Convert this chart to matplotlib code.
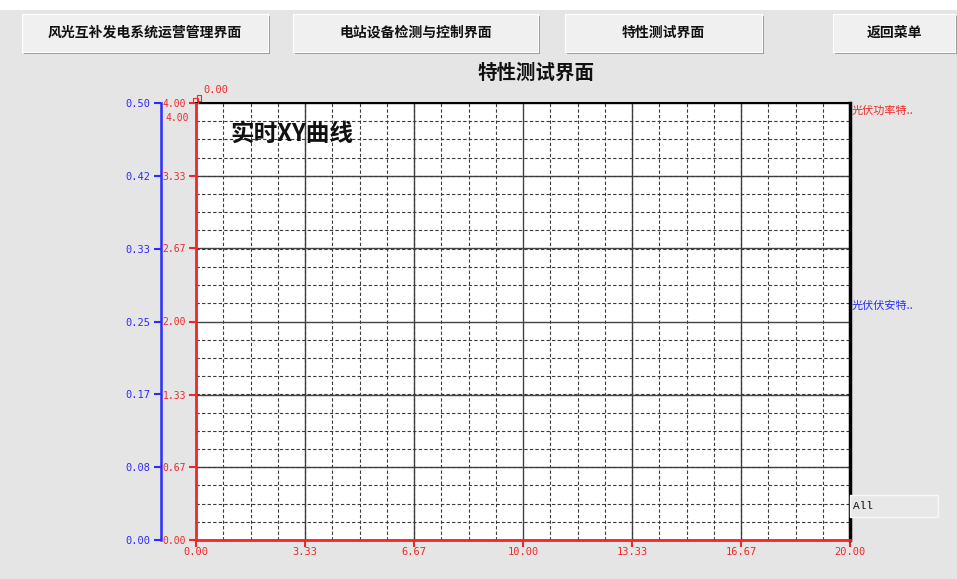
import matplotlib
matplotlib.use("Agg")
import matplotlib.pyplot as plt
from matplotlib.patches import Rectangle
from matplotlib.ticker import MultipleLocator

plt.rcParams['font.family'] = ['Noto Sans CJK SC', 'DejaVu Sans']

W, H = 957, 579

# axis data
x_ticks = [0.00, 3.33, 6.67, 10.00, 13.33, 16.67, 20.00]
x_labels = ["0.00", "3.33", "6.67", "10.00", "13.33", "16.67", "20.00"]
y_ticks = [0.00, 0.67, 1.33, 2.00, 2.67, 3.33, 4.00]
y_labels = ["0.00", "0.67", "1.33", "2.00", "2.67", "3.33", "4.00"]
y2_ticks = [0.00, 0.0833, 0.1667, 0.25, 0.3333, 0.4167, 0.50]
y2_labels = ["0.00", "0.08", "0.17", "0.25", "0.33", "0.42", "0.50"]

# curves (no samples recorded yet)
pv_power_x, pv_power_y = [], []
pv_iv_x, pv_iv_y = [], []

buttons = ["风光互补发电系统运营管理界面", "电站设备检测与控制界面", "特性测试界面", "返回菜单"]
button_px = [(22, 268), (293, 538), (565, 762), (833, 955)]

RED = '#f02828'
BLUE = '#2b2bff'
MONO = 'DejaVu Sans Mono'


def fx(x):
    return x / W


def fy(y):
    return 1 - y / H


fig = plt.figure(figsize=(W / 100, H / 100), dpi=100)
fig.patch.set_facecolor('#e5e5e5')

# white strip at the top of the window
fig.add_artist(Rectangle((0, fy(10)), 1, 10 / H, transform=fig.transFigure,
                         facecolor='white', edgecolor='none'))

# buttons
for label, (x0, x1) in zip(buttons, button_px):
    y0, y1 = 14, 52
    fig.add_artist(Rectangle((fx(x0 + 2), fy(y1 + 2)), (x1 - x0) / W, (y1 - y0) / H,
                             transform=fig.transFigure, facecolor='#9a9a9a', edgecolor='none'))
    fig.add_artist(Rectangle((fx(x0), fy(y1)), (x1 - x0) / W, (y1 - y0) / H,
                             transform=fig.transFigure, facecolor='#f0f0f0',
                             edgecolor='#ffffff', linewidth=0.8))
    fig.text(fx((x0 + x1) / 2), fy((y0 + y1) / 2), label, ha='center', va='center',
             fontsize=10, fontweight='bold', color='#111111')

fig.text(fx(536), fy(73), "特性测试界面", ha='center', va='center',
         fontsize=14, fontweight='bold', color='#111111')

# main plot area
left, right, top, bottom = 196, 850, 103, 540
ax = fig.add_axes([fx(left), fy(bottom), (right - left) / W, (bottom - top) / H])
ax.set_facecolor('white')
ax.plot(pv_power_x, pv_power_y, color=RED)
ax.plot(pv_iv_x, pv_iv_y, color=BLUE)
ax.set_xlim(0, 20)
ax.set_ylim(0, 4)

ax.set_xticks(x_ticks)
ax.set_xticklabels(x_labels, family=MONO, fontsize=7.5, color=RED)
ax.set_yticks(y_ticks)
ax.set_yticklabels(y_labels, family=MONO, fontsize=7, color=RED)
ax.xaxis.set_minor_locator(MultipleLocator(20 / 24))
ax.yaxis.set_minor_locator(MultipleLocator(4 / 24))
ax.tick_params(axis='y', which='major', direction='out', length=5, width=1.5,
               color=RED, pad=2)
ax.tick_params(axis='x', which='major', direction='out', length=5, width=1.5,
               color=RED, pad=0)
ax.tick_params(axis='both', which='minor', length=0)

ax.grid(True, which='major', color='#444444', linewidth=1.0, linestyle='-')
ax.grid(True, which='minor', color='#3a3a3a', linewidth=0.8, linestyle=(0, (3, 2)))
ax.set_axisbelow(True)

ax.spines['left'].set_color(RED)
ax.spines['left'].set_linewidth(2)
ax.spines['bottom'].set_color(RED)
ax.spines['bottom'].set_linewidth(2)
ax.spines['top'].set_color('black')
ax.spines['top'].set_linewidth(1.5)
ax.spines['right'].set_color('black')
ax.spines['right'].set_linewidth(2.5)

# blue secondary scale, offset to the left
ax2 = ax.twinx()
ax2.set_ylim(0, 0.5)
ax2.yaxis.tick_left()
ax2.spines['left'].set_position(('outward', 25.5))
ax2.spines['left'].set_color(BLUE)
ax2.spines['left'].set_linewidth(1.8)
for s in ['right', 'top', 'bottom']:
    ax2.spines[s].set_visible(False)
ax2.set_yticks(y2_ticks)
ax2.set_yticklabels(y2_labels, family=MONO, fontsize=7.5, color=BLUE)
ax2.tick_params(axis='y', direction='out', length=5, width=1.5, color=BLUE, pad=2)

# extra labels at the corner
fig.text(fx(165), fy(118), "4.00", family=MONO, fontsize=7, color=RED,
         ha='left', va='center')
fig.text(fx(203), fy(90), "0.00", family=MONO, fontsize=7.5, color=RED,
         ha='left', va='center')
fig.add_artist(Rectangle((fx(193), fy(103)), 5 / W, 5 / H, transform=fig.transFigure,
                         facecolor='none', edgecolor=RED, linewidth=0.8))
fig.add_artist(Rectangle((fx(197), fy(101)), 4 / W, 6 / H, transform=fig.transFigure,
                         facecolor='none', edgecolor=RED, linewidth=0.8))

ax.text(0.052, 0.93, "实时XY曲线", transform=ax.transAxes, fontsize=17,
        fontweight='bold', color='#111111', ha='left', va='center')

# series labels on the right
fig.text(fx(852), fy(111), "光伏功率特..", fontsize=8, color=RED, ha='left', va='center')
fig.text(fx(852), fy(306), "光伏伏安特..", fontsize=8, color=BLUE, ha='left', va='center')

# "All" box
fig.add_artist(Rectangle((fx(850), fy(517)), 88 / W, 22 / H, transform=fig.transFigure,
                         facecolor='#e8e8e8', edgecolor='#f8f8f8', linewidth=1))
fig.text(fx(853), fy(506), "All", family='Liberation Mono', fontsize=8,
         color='#111111', ha='left', va='center')

fig.savefig("out.png", dpi=100, facecolor=fig.get_facecolor())
